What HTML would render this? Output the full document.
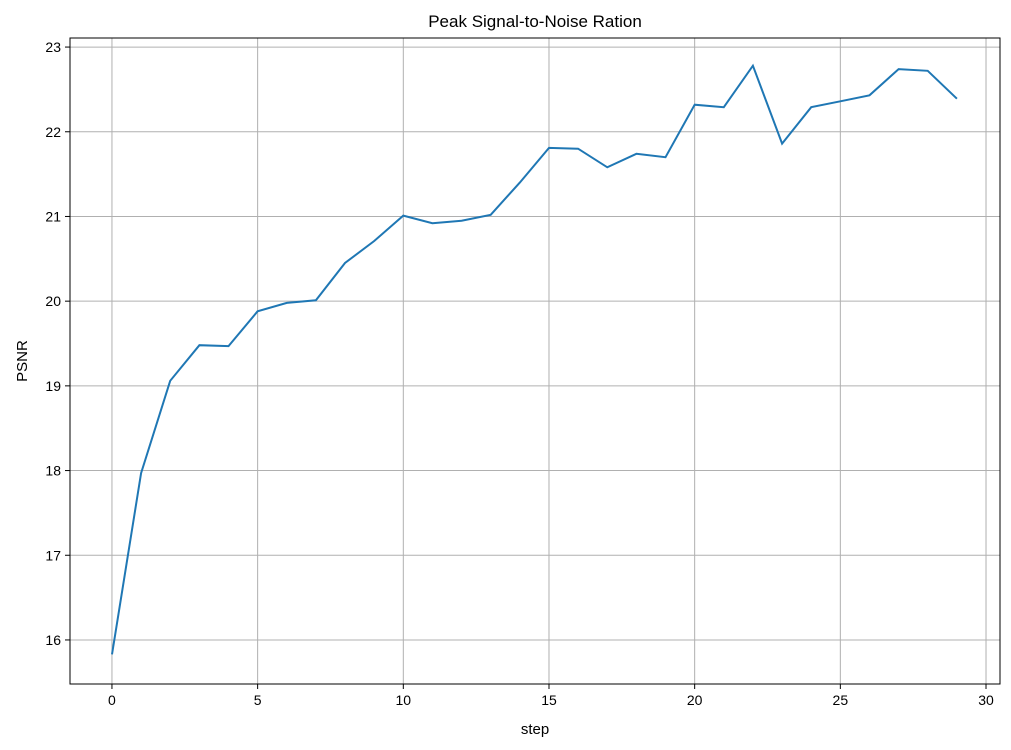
<!DOCTYPE html>
<html><head><meta charset="utf-8">
<style>
body{margin:0;background:#fff;}
svg{display:block;font-family:"Liberation Sans","DejaVu Sans",sans-serif;}
</style></head>
<body>
<svg id="chart" width="1011" height="750">
<rect width="1011" height="750" fill="#fff"/>
<g id="grid"></g>
<g id="ticks"></g>
<path id="line" fill="none" stroke="#1f77b4" stroke-width="2"/>
<rect x="70" y="38" width="930" height="646" fill="none" stroke="#000" stroke-width="1"/>
<text x="535" y="27" text-anchor="middle" font-size="17">Peak Signal-to-Noise Ration</text>
<text x="535" y="734" text-anchor="middle" font-size="15">step</text>
<text transform="translate(27,361) rotate(-90)" text-anchor="middle" font-size="15">PSNR</text>
</svg>
<script>
const steps=[0,1,2,3,4,5,6,7,8,9,10,11,12,13,14,15,16,17,18,19,20,21,22,23,24,25,26,27,28,29];
const psnr=[15.83,17.97,19.06,19.48,19.47,19.88,19.98,20.01,20.45,20.71,21.01,20.92,20.95,21.02,21.40,21.81,21.80,21.58,21.74,21.70,22.32,22.29,22.78,21.86,22.29,22.36,22.43,22.74,22.72,22.39];
const xTicks=[0,5,10,15,20,25,30];
const yTicks=[16,17,18,19,20,21,22,23];
const L=70,R=1000,T=38,B=684;
const xMin=-1.44,xMax=30.48,yMin=15.48,yMax=23.107;
const xs=v=>L+(v-xMin)/(xMax-xMin)*(R-L);
const ys=v=>B-(v-yMin)/(yMax-yMin)*(B-T);
const NS="http://www.w3.org/2000/svg";
const grid=document.getElementById('grid'),tk=document.getElementById('ticks');
function mk(tag,attrs,parent){const e=document.createElementNS(NS,tag);for(const k in attrs)e.setAttribute(k,attrs[k]);parent.appendChild(e);return e;}
xTicks.forEach(t=>{const x=xs(t);
const g=mk('line',{x1:x,x2:x,y1:T,y2:B,stroke:'#b0b0b0','stroke-width':1},grid);


const m=mk('line',{x1:x,x2:x,y1:B,y2:B+5,stroke:'#000'},tk);


const l=mk('text',{x:x,y:B+21,'text-anchor':'middle','font-size':14},tk);l.textContent=t;

});
yTicks.forEach(t=>{const y=ys(t);
const g=mk('line',{x1:L,x2:R,y1:y,y2:y,stroke:'#b0b0b0','stroke-width':1},grid);


const m=mk('line',{x1:L-5,x2:L,y1:y,y2:y,stroke:'#000'},tk);


const l=mk('text',{x:L-9,y:y+5,'text-anchor':'end','font-size':14},tk);l.textContent=t;

});
document.getElementById('line').setAttribute('d',steps.map((s,i)=>(i?'L':'M')+xs(s).toFixed(1)+','+ys(psnr[i]).toFixed(1)).join(''));
</script>
</body></html>
